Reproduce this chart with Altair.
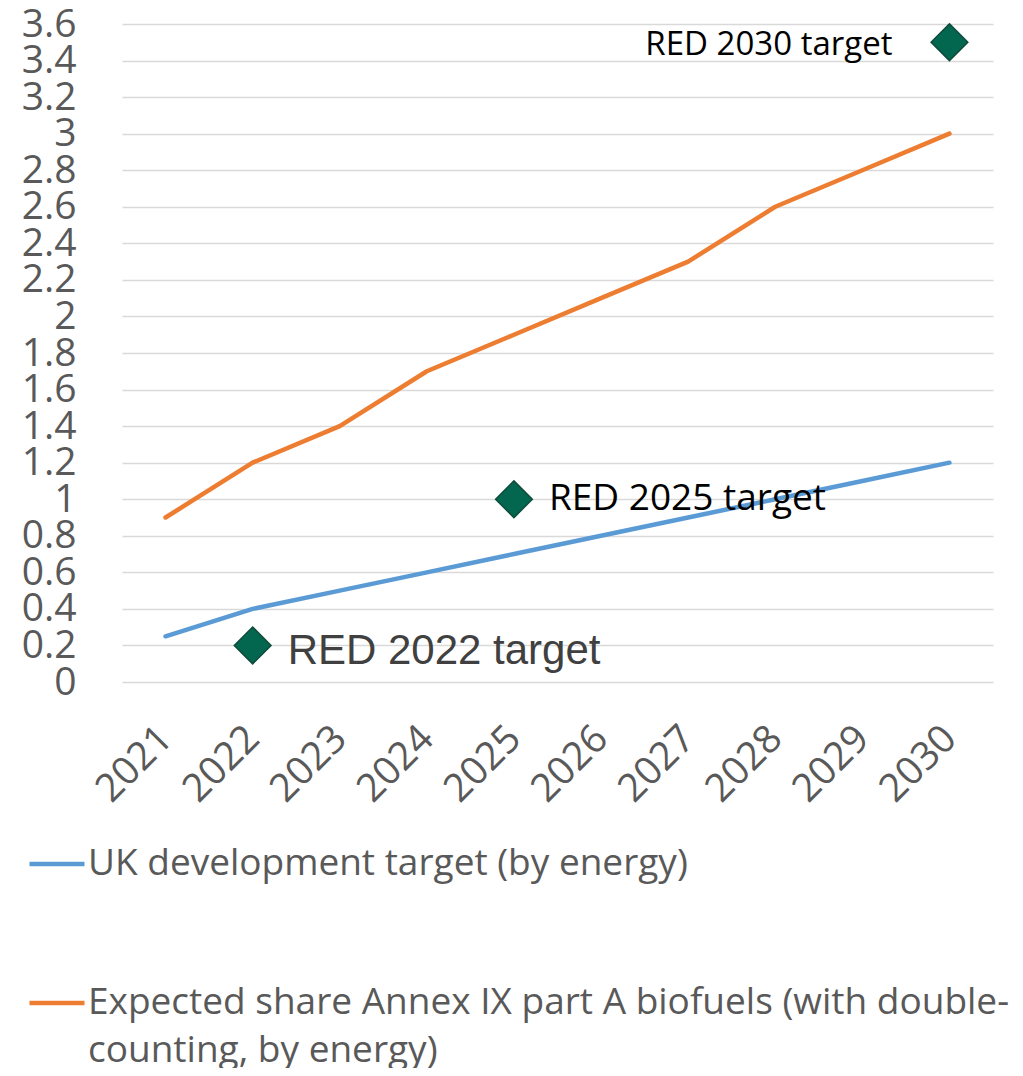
import altair as alt
import pandas as pd

years = ["2021", "2022", "2023", "2024", "2025", "2026", "2027", "2028", "2029", "2030"]
uk_target = [0.25, 0.4, 0.5, 0.6, 0.7, 0.8, 0.9, 1.0, 1.1, 1.2]
annex_share = [0.9, 1.2, 1.4, 1.7, 1.9, 2.1, 2.3, 2.6, 2.8, 3.0]
series_names = [
    "UK development target (by energy)",
    "Expected share Annex IX part A biofuels (with double-counting, by energy)",
]
series_colors = ["#5B9BD5", "#ED7D31"]
target_years = ["2022", "2025", "2030"]
target_values = [0.2, 1.0, 3.5]
target_labels = ["RED 2022 target", "RED 2025 target", "RED 2030 target"]
y_tick_values = [0, 0.2, 0.4, 0.6, 0.8, 1, 1.2, 1.4, 1.6, 1.8, 2, 2.2, 2.4, 2.6, 2.8, 3, 3.2, 3.4, 3.6]

lines_df = pd.DataFrame({
    "year": years * 2,
    "value": uk_target + annex_share,
    "series": [series_names[0]] * len(years) + [series_names[1]] * len(years),
})
targets_df = pd.DataFrame({"year": target_years, "value": target_values, "label": target_labels})

x_enc = alt.X(
    "year:N",
    scale=alt.Scale(domain=years, type="point", padding=0.5),
    axis=alt.Axis(
        title=None, labelAngle=-45, labelAlign="right", labelBaseline="middle",
        labelPadding=50, labelFont="Open Sans", labelFontSize=39, labelColor="#595959",
        ticks=False, tickSize=0, domain=False, grid=False, labelOverlap=False,
    ),
)
y_enc = alt.Y(
    "value:Q",
    scale=alt.Scale(domain=[0, 3.6], nice=False, zero=True),
    axis=alt.Axis(
        title=None, values=y_tick_values, format="~g", labelFont="Open Sans",
        labelFontSize=39, labelColor="#595959", labelPadding=46, ticks=False, tickSize=0,
        domain=False, gridColor="#D9D9D9", gridWidth=1.5, labelOverlap=False, labelFlush=False,
    ),
)

label_expr = (
    "datum.label == '" + series_names[1] + "' ? "
    "['Expected share Annex IX part A biofuels (with double-', 'counting, by energy)'] : datum.label"
)

lines = alt.Chart(lines_df).mark_line(strokeWidth=4.5, strokeCap="round", strokeJoin="round").encode(
    x=x_enc,
    y=y_enc,
    color=alt.Color(
        "series:N",
        scale=alt.Scale(domain=series_names, range=series_colors),
        sort=series_names,
        legend=alt.Legend(
            title=None, orient="none", legendX=-95, legendY=810, direction="vertical",
            symbolType="stroke", symbolSize=3025, symbolStrokeWidth=4.5,
            labelFont="Open Sans", labelFontSize=37, labelColor="#595959", labelLimit=1000,
            labelOffset=1, padding=0, rowPadding=91, labelExpr=label_expr,
        ),
    ),
)

diamonds = alt.Chart(targets_df).mark_point(
    shape="diamond", filled=True, size=1350, fill="#03674F", stroke="#0E4B3B",
    strokeWidth=1.5, opacity=1,
).encode(x=x_enc, y=y_enc)

t2022 = alt.Chart(targets_df).transform_filter(alt.datum.year == "2022").mark_text(
    align="left", baseline="middle", dx=35, dy=6, font="Liberation Sans", fontSize=42, color="#404040"
).encode(x=x_enc, y=y_enc, text="label:N")
t2025 = alt.Chart(targets_df).transform_filter(alt.datum.year == "2025").mark_text(
    align="left", baseline="middle", dx=35, dy=0, font="Open Sans", fontSize=37, color="#000000"
).encode(x=x_enc, y=y_enc, text="label:N")
t2030 = alt.Chart(targets_df).transform_filter(alt.datum.year == "2030").mark_text(
    align="right", baseline="middle", dx=-57, dy=3, font="Open Sans", fontSize=33, color="#000000"
).encode(x=x_enc, y=y_enc, text="label:N")

chart = alt.layer(lines, diamonds, t2022, t2025, t2030).properties(
    width=871, height=658,
    padding={"left": 114, "top": 16, "right": 22, "bottom": 386},
    autosize=alt.AutoSizeParams(type="none"),
).configure(
    style={"guide-label": {"lineHeight": 48}}
).configure_view(stroke=None)

chart.save("out.html", embed_options={"renderer": "svg", "actions": False})
